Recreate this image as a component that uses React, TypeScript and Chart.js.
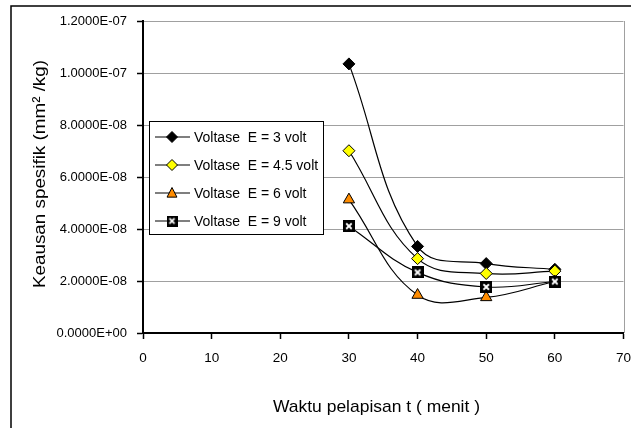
import React, { useEffect, useRef } from "react";
import { Chart, registerables } from "chart.js";

Chart.register(...registerables);

const times = [30, 40, 50, 60];
const voltE3 = [1.035e-7, 3.33e-8, 2.67e-8, 2.45e-8];
const voltE45 = [7.01e-8, 2.86e-8, 2.29e-8, 2.38e-8];
const voltE6 = [5.13e-8, 1.46e-8, 1.37e-8, 1.98e-8];
const voltE9 = [4.11e-8, 2.33e-8, 1.77e-8, 1.98e-8];
const seriesLabels = [
  "Voltase  E = 3 volt",
  "Voltase  E = 4.5 volt",
  "Voltase  E = 6 volt",
  "Voltase  E = 9 volt",
];
const yTickLabels = [
  "0.0000E+00",
  "2.0000E-08",
  "4.0000E-08",
  "6.0000E-08",
  "8.0000E-08",
  "1.0000E-07",
  "1.2000E-07",
];
const xTickLabels = ["0", "10", "20", "30", "40", "50", "60", "70"];
const xTitle = "Waktu pelapisan t ( menit )";
const yTitle = "Keausan spesifik (mm² /kg)";

const FONT = "'Liberation Sans', Arial, sans-serif";

function makeXBox(size: number): HTMLCanvasElement {
  const c = document.createElement("canvas");
  c.width = size;
  c.height = size;
  const g = c.getContext("2d")!;
  g.fillStyle = "#000";
  g.fillRect(0, 0, size, size);
  g.strokeStyle = "#fff";
  g.lineWidth = 1.8;
  const m = size * 0.27;
  g.beginPath();
  g.moveTo(m, m);
  g.lineTo(size - m, size - m);
  g.moveTo(size - m, m);
  g.lineTo(m, size - m);
  g.stroke();
  return c;
}

type MarkerKind = "diamondBlack" | "diamondYellow" | "triangle" | "xbox";
const markerKinds: MarkerKind[] = ["diamondBlack", "diamondYellow", "triangle", "xbox"];

function drawMarker(ctx: CanvasRenderingContext2D, kind: MarkerKind, x: number, y: number, r: number, xbox: HTMLCanvasElement) {
  ctx.save();
  ctx.lineWidth = 1;
  ctx.strokeStyle = "#000";
  if (kind === "diamondBlack" || kind === "diamondYellow") {
    ctx.fillStyle = kind === "diamondBlack" ? "#000" : "#ffff00";
    ctx.beginPath();
    ctx.moveTo(x, y - r);
    ctx.lineTo(x + r, y);
    ctx.lineTo(x, y + r);
    ctx.lineTo(x - r, y);
    ctx.closePath();
    ctx.fill();
    ctx.stroke();
  } else if (kind === "triangle") {
    ctx.fillStyle = "#ff8c00";
    ctx.beginPath();
    ctx.moveTo(x, y - r);
    ctx.lineTo(x + r * 0.9, y + r * 0.75);
    ctx.lineTo(x - r * 0.9, y + r * 0.75);
    ctx.closePath();
    ctx.fill();
    ctx.stroke();
  } else {
    const s = r * 2;
    ctx.drawImage(xbox, x - s / 2, y - s / 2, s, s);
  }
  ctx.restore();
}

function fitText(ctx: CanvasRenderingContext2D, text: string, cx: number, cy: number, len: number, rotate: boolean) {
  ctx.save();
  ctx.translate(cx, cy);
  if (rotate) ctx.rotate(-Math.PI / 2);
  const w = ctx.measureText(text).width;
  ctx.scale(len / w, 1);
  ctx.fillText(text, 0, 0);
  ctx.restore();
}

export default function App() {
  const ref = useRef<HTMLCanvasElement | null>(null);

  useEffect(() => {
    const canvas = ref.current;
    if (!canvas) return;
    const xbox = makeXBox(12);
    const xboxSmall = makeXBox(11);

    const series = [voltE3, voltE45, voltE6, voltE9];
    const fills = ["#000000", "#ffff00", "#ff8c00", "#000000"];
    const styles: any[] = ["rectRot", "rectRot", "triangle", xbox];
    const radii = [6, 6, 6.5, 6];

    const decor = {
      id: "decor",
      beforeDatasetsDraw(chart: any) {
        const ctx = chart.ctx as CanvasRenderingContext2D;
        const a = chart.chartArea;
        ctx.save();
        ctx.strokeStyle = "#a0a0a0";
        ctx.lineWidth = 1;
        ctx.beginPath();
        ctx.moveTo(Math.round(a.right) + 0.5, a.top);
        ctx.lineTo(Math.round(a.right) + 0.5, a.bottom);
        ctx.stroke();
        ctx.restore();
      },
      afterDraw(chart: any) {
        const ctx = chart.ctx as CanvasRenderingContext2D;
        ctx.save();
        // outer frame (top and left)
        ctx.strokeStyle = "#000";
        ctx.lineWidth = 1.5;
        ctx.beginPath();
        ctx.moveTo(11, 440);
        ctx.lineTo(11, 6);
        ctx.lineTo(640, 6);
        ctx.stroke();

        // axis titles
        ctx.fillStyle = "#000";
        ctx.font = `17px ${FONT}`;
        ctx.textAlign = "center";
        ctx.textBaseline = "middle";
        fitText(ctx, xTitle, 376.5, 407, 207, false);
        fitText(ctx, yTitle, 40, 174, 228, true);

        // legend
        const lx = 149, ly = 121, lw = 174, lh = 113;
        ctx.fillStyle = "#fff";
        ctx.fillRect(lx, ly, lw, lh);
        ctx.strokeStyle = "#000";
        ctx.lineWidth = 1;
        ctx.strokeRect(lx + 0.5, ly + 0.5, lw, lh);
        ctx.font = `14px ${FONT}`;
        ctx.textAlign = "left";
        ctx.textBaseline = "middle";
        seriesLabels.forEach((label, i) => {
          const cy = 137 + i * 28;
          ctx.strokeStyle = "#000";
          ctx.lineWidth = 1.2;
          ctx.beginPath();
          ctx.moveTo(155, cy);
          ctx.lineTo(190, cy);
          ctx.stroke();
          drawMarker(ctx, markerKinds[i], 172, cy, 5.5, xboxSmall);
          ctx.fillStyle = "#000";
          ctx.fillText(label, 194, cy + 1);
        });
        ctx.restore();
      },
    };

    const chart = new Chart(canvas, {
      type: "line",
      data: {
        datasets: series.map((vals, i) => ({
          label: seriesLabels[i],
          data: times.map((t, j) => ({ x: t, y: vals[j] })),
          borderColor: "#000",
          borderWidth: 1.2,
          backgroundColor: fills[i],
          pointBackgroundColor: fills[i],
          pointBorderColor: "#000",
          pointBorderWidth: 1,
          pointStyle: styles[i],
          pointRadius: radii[i],
          tension: 0.4,
          fill: false,
          order: 3 - i,
        })),
      },
      options: {
        animation: false,
        responsive: false,
        devicePixelRatio: 1,
        layout: { padding: { top: 21, right: 4, left: 0, bottom: 0 } },
        plugins: {
          legend: { display: false },
          tooltip: { enabled: false },
          title: { display: false },
        },
        scales: {
          x: {
            type: "linear",
            min: 0,
            max: 70,
            ticks: {
              stepSize: 10,
              color: "#000",
              font: { family: FONT, size: 13.5 },
              padding: 11,
              maxRotation: 0,
              callback: (_v: any, i: number) => xTickLabels[i],
            },
            grid: {
              drawOnChartArea: false,
              drawTicks: true,
              tickLength: 6,
              tickColor: "#000",
              tickWidth: 1.5,
            },
            border: { color: "#000", width: 2 },
            afterFit: (s: any) => {
              s.height = 95;
              s.paddingLeft = 0;
              s.paddingRight = 0;
            },
          },
          y: {
            type: "linear",
            min: 0,
            max: 1.2e-7,
            ticks: {
              stepSize: 2e-8,
              color: "#000",
              font: { family: FONT, size: 13 },
              padding: 10,
              callback: (_v: any, i: number) => yTickLabels[i],
            },
            grid: {
              color: "#a0a0a0",
              lineWidth: 1,
              drawTicks: true,
              tickLength: 6,
              tickColor: "#000",
              tickWidth: 1.5,
            },
            border: { color: "#000", width: 2 },
            afterFit: (s: any) => {
              s.width = 143;
              s.paddingTop = 0;
              s.paddingBottom = 0;
            },
          },
        },
      },
      plugins: [decor],
    } as any);

    return () => chart.destroy();
  }, []);

  return (
    <div style={{ position: "fixed", left: 0, top: 0, width: 631, height: 428, background: "#fff" }}>
      <canvas ref={ref} width={631} height={428} style={{ display: "block", width: 631, height: 428 }} />
    </div>
  );
}
